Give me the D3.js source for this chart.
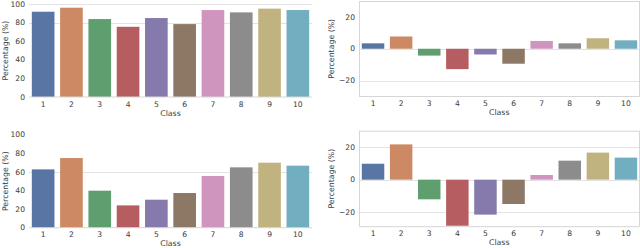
<!DOCTYPE html>
<html><head><meta charset="utf-8">
<script src="https://cdn.jsdelivr.net/npm/d3@7"></script>
<style>body{margin:0;background:#fff}svg{display:block}text{font-family:"DejaVu Sans",sans-serif}</style>
</head><body>
<script>
const classes = ["1","2","3","4","5","6","7","8","9","10"];
const colors = ["#5975A4","#CC8963","#5F9E6E","#B55D60","#857AAB","#8D7866","#D095BF","#8C8C8C","#C1B37F","#71AEC0"];
const accTop = [91.7, 96, 83.8, 75.5, 84.9, 78.4, 93.5, 91, 95, 93.5];
const accBottom = [62.7, 74.9, 39.8, 24, 30.1, 37.3, 55.6, 64.9, 69.9, 66.7];
const diffTop = [3.4, 7.7, -4.3, -12.8, -3.6, -9.4, 4.9, 3.4, 6.6, 5.3];
const diffBottom = [9.9, 21.9, -12.2, -28.6, -21.7, -15.1, 2.9, 11.8, 16.8, 13.7];
const leftTicks = [0, 20, 40, 60, 80, 100];
const rightTicks = [-20, 0, 20];

const W = 640, H = 248;
const svg = d3.select("body").append("svg").attr("width", W).attr("height", H);

const panels = [
  {values: accTop, ticks: leftTicks, grid: [80, 100], domain: [0, 100], x0: 29, x1: 312, y0: 97, y1: 4,
   spines: {bottom: true}, ylabX: 5},
  {values: accBottom, ticks: leftTicks, grid: [60], domain: [0, 100], x0: 29, x1: 312, y0: 227.7, y1: 134.7,
   spines: {bottom: true}, ylabX: 5},
  {values: diffTop, ticks: rightTicks, grid: [-20, 0], domain: [-30, 30], x0: 359, x1: 640, y0: 96.5, y1: 1,
   spines: {bottom: true, left: true, right: true, top: true}, ylabX: 331},
  {values: diffBottom, ticks: rightTicks, grid: [-20, 0, 20], domain: [-29.2, 30.4], x0: 359, x1: 640, y0: 226.7, y1: 130.7,
   spines: {bottom: true, left: true, right: true, top: true}, ylabX: 331}
];

const gridCol = "#e3e3e3", spineCol = "#d6d6d6", textCol = "#3a3a3a";

panels.forEach(p => {
  const x = d3.scaleBand().domain(classes).range([p.x0, p.x1]).paddingInner(0.2).paddingOuter(0.1);
  const y = d3.scaleLinear().domain(p.domain).range([p.y0, p.y1]);
  const g = svg.append("g");
  const right = p.spines.right ? 639.5 : p.x1;
  // grid
  g.selectAll(".grid").data(p.grid).join("line")
    .attr("x1", p.x0).attr("x2", right)
    .attr("y1", d => Math.round(y(d)) + 0.5).attr("y2", d => Math.round(y(d)) + 0.5)
    .attr("stroke", gridCol).attr("stroke-width", 1);
  // bars
  g.selectAll(".bar").data(p.values).join("rect")
    .attr("x", (d, i) => x(classes[i]))
    .attr("width", x.bandwidth())
    .attr("y", d => Math.min(y(d), y(0)))
    .attr("height", d => Math.abs(y(d) - y(0)))
    .attr("fill", (d, i) => colors[i]);
  // spines
  const yt = p.y1, yb = p.y0;
  if (p.spines.bottom) g.append("line").attr("x1", p.x0).attr("x2", right).attr("y1", yb).attr("y2", yb).attr("stroke", spineCol);
  if (p.spines.left) g.append("line").attr("x1", p.x0 + 0.5).attr("x2", p.x0 + 0.5).attr("y1", yt).attr("y2", yb).attr("stroke", spineCol);
  if (p.spines.right) g.append("line").attr("x1", right).attr("x2", right).attr("y1", yt).attr("y2", yb).attr("stroke", spineCol);
  if (p.spines.top) g.append("line").attr("x1", p.x0).attr("x2", right).attr("y1", yt + 0.5).attr("y2", yt + 0.5).attr("stroke", spineCol);
  // y ticks
  g.selectAll(".yt").data(p.ticks).join("text")
    .attr("x", p.x0 - 4).attr("y", d => y(d)).attr("dy", "0.35em")
    .attr("text-anchor", "end").attr("font-size", 7.6).attr("fill", textCol)
    .text(d => d3.format("")(d).replace("-", "\u2212"));
  // x ticks
  g.selectAll(".xt").data(classes).join("text")
    .attr("x", d => x(d) + x.bandwidth() / 2).attr("y", yb + 9.5)
    .attr("text-anchor", "middle").attr("font-size", 7.6).attr("fill", textCol)
    .text(d => d);
  // labels
  g.append("text").attr("x", (p.x0 + right) / 2).attr("y", yb + 18.5)
    .attr("text-anchor", "middle").attr("font-size", 7.8).attr("fill", textCol).text("Class");
  g.append("text").attr("transform", `translate(${p.ylabX + 3},${(yt + yb) / 2}) rotate(-90)`)
    .attr("text-anchor", "middle").attr("font-size", 7.8).attr("fill", textCol).text("Percentage (%)");
});
</script>
</body></html>
